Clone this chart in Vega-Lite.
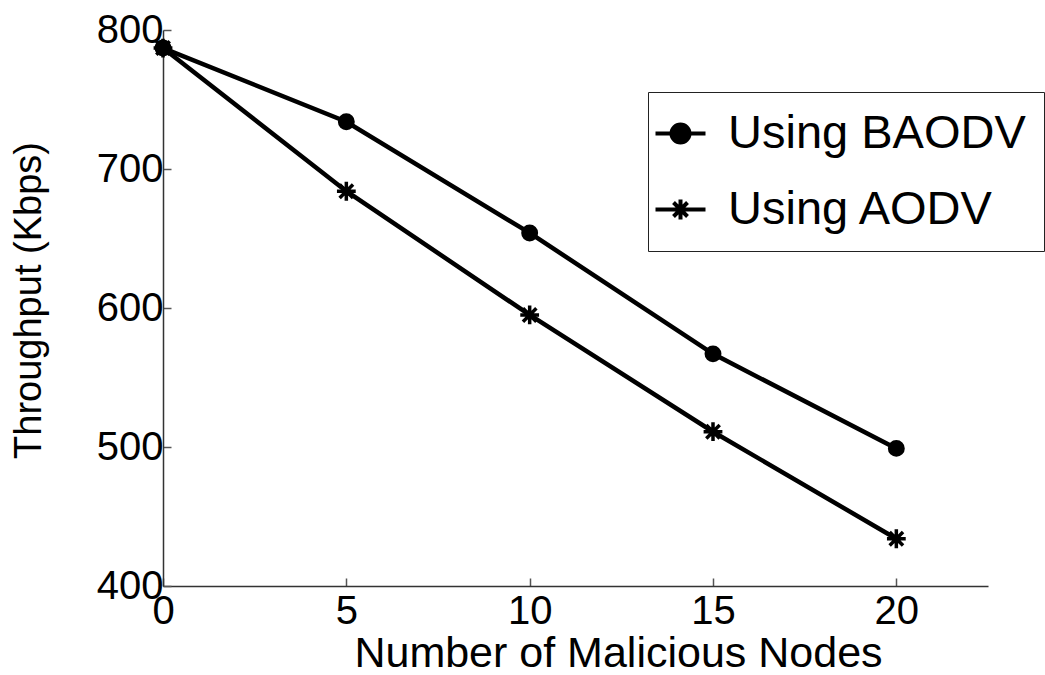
{
  "$schema": "https://vega.github.io/schema/vega-lite/v6.json",
  "width": 825,
  "height": 556,
  "autosize": {"type": "none"},
  "padding": {"left": 163, "top": 30, "right": 57, "bottom": 89},
  "background": "white",
  "config": {
    "view": {"stroke": null},
    "font": "Liberation Sans"
  },
  "data": {
    "values": [
      {"n": 0, "series": "Using BAODV", "tp": 787},
      {"n": 5, "series": "Using BAODV", "tp": 734},
      {"n": 10, "series": "Using BAODV", "tp": 654},
      {"n": 15, "series": "Using BAODV", "tp": 567},
      {"n": 20, "series": "Using BAODV", "tp": 499},
      {"n": 0, "series": "Using AODV", "tp": 787},
      {"n": 5, "series": "Using AODV", "tp": 684},
      {"n": 10, "series": "Using AODV", "tp": 595},
      {"n": 15, "series": "Using AODV", "tp": 511},
      {"n": 20, "series": "Using AODV", "tp": 434}
    ]
  },
  "encoding": {
    "x": {
      "field": "n", "type": "quantitative",
      "scale": {"domain": [0, 22.5], "nice": false, "zero": false},
      "axis": {
        "values": [0, 5, 10, 15, 20],
        "grid": false,
        "title": "Number of Malicious Nodes",
        "titleFontSize": 43, "titleFontWeight": "normal", "titleColor": "black",
        "titleFont": "Liberation Sans",
        "titleX": 455, "titleY": 80, "titleBaseline": "alphabetic",
        "labelFontSize": 40, "labelColor": "black", "labelFont": "Liberation Sans",
        "labelPadding": 13,
        "domainColor": "#333", "domainWidth": 1.5,
        "tickColor": "#555", "tickWidth": 1.5, "tickSize": -8,
        "labelFlush": false
      }
    },
    "y": {
      "field": "tp", "type": "quantitative",
      "scale": {"domain": [400, 800], "nice": false, "zero": false},
      "axis": {
        "values": [400, 500, 600, 700, 800],
        "grid": false,
        "title": "Throughput (Kbps)",
        "titleFontSize": 38, "titleFontWeight": "normal", "titleColor": "black",
        "titleFont": "Liberation Sans",
        "titleX": -115, "titleY": 270,
        "labelFontSize": 40, "labelColor": "black", "labelFont": "Liberation Sans",
        "labelPadding": 8,
        "domainColor": "#333", "domainWidth": 1.5,
        "tickColor": "#555", "tickWidth": 1.5, "tickSize": -8,
        "labelFlush": false
      }
    }
  },
  "layer": [
    {
      "mark": {"type": "line", "color": "black", "strokeWidth": 4.5},
      "encoding": {"detail": {"field": "series"}}
    },
    {
      "mark": {"type": "point", "filled": true, "fill": "black", "stroke": "black", "strokeWidth": 3.5, "size": 180, "opacity": 1},
      "encoding": {
        "shape": {
          "field": "series", "type": "nominal",
          "scale": {
            "domain": ["Using BAODV", "Using AODV"],
            "range": ["circle", "M-1.4,0L1.4,0M0,-1.4L0,1.4M-1,-1L1,1M-1,1L1,-1"]
          },
          "legend": null
        }
      }
    },
    {
      "mark": {"type": "point", "filled": true, "fill": "black", "stroke": "black", "strokeWidth": 4, "size": 400, "opacity": 0},
      "encoding": {
        "shape": {
          "field": "series", "type": "nominal",
          "scale": {
            "domain": ["Using BAODV", "Using AODV"],
            "range": [
              "M-1.9,0L3.1,0M1.5,0A0.9,0.9,0,1,1,-0.3,0A0.9,0.9,0,1,1,1.5,0Z",
              "M-1.9,0L3.1,0M0.6,-1L0.6,1M-0.1,-0.7L1.3,0.7M-0.1,0.7L1.3,-0.7"
            ]
          },
          "legend": {
            "title": null,
            "orient": "none",
            "legendX": 485,
            "legendY": 62,
            "padding": 18,
            "rowPadding": 28,
            "strokeColor": "#222",
            "fillColor": "white",
            "cornerRadius": 0,
            "symbolSize": 400,
            "symbolOffset": -15,
            "symbolStrokeWidth": 4,
            "labelFontSize": 47,
            "labelFont": "Liberation Sans",
            "labelColor": "black",
            "labelOffset": 30,
            "labelLimit": 0,
            "encode": {
              "legend": {"update": {"strokeWidth": {"value": 2.5}}},
              "symbols": {"update": {
                "stroke": {"value": "black"},
                "fill": {"value": "black"},
                "strokeWidth": {"value": 4},
                "opacity": {"value": 1},
                "fillOpacity": {"value": 1},
                "strokeOpacity": {"value": 1}
              }}
            }
          }
        }
      }
    }
  ],
  "resolve": {"scale": {"shape": "independent"}}
}
